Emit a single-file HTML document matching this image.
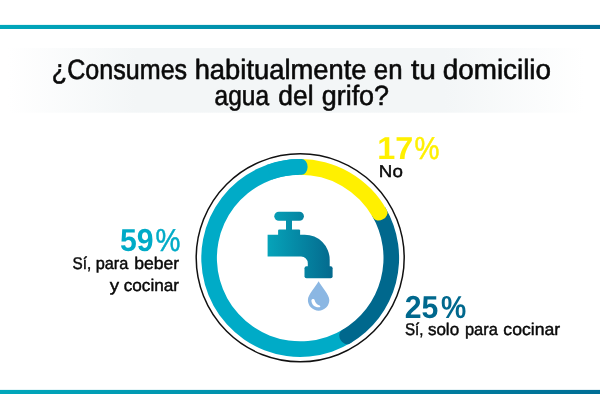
<!DOCTYPE html>
<html lang="es"><head><meta charset="utf-8"><title>¿Consumes habitualmente en tu domicilio agua del grifo?</title>
<style>
html,body{margin:0;padding:0;background:#fff;}
body{width:600px;height:419px;overflow:hidden;font-family:"Liberation Sans",sans-serif;}
svg{display:block;will-change:transform;}
text{font-family:"Liberation Sans",sans-serif;text-rendering:geometricPrecision;}
</style></head><body>
<svg width="600" height="419" viewBox="0 0 600 419">
<defs>
<linearGradient id="bar" x1="0" x2="1" y1="0" y2="0"><stop offset="0" stop-color="#00a7bb"/><stop offset="1" stop-color="#006e95"/></linearGradient>
<linearGradient id="band" x1="0" x2="1" y1="0" y2="0"><stop offset="0" stop-color="#ffffff"/><stop offset="0.22" stop-color="#f3f6f7"/><stop offset="0.75" stop-color="#f3f6f7"/><stop offset="0.99" stop-color="#ffffff"/></linearGradient>
<linearGradient id="tap" gradientUnits="userSpaceOnUse" x1="267" x2="333" y1="0" y2="0"><stop offset="0" stop-color="#06a4ba"/><stop offset="1" stop-color="#04698d"/></linearGradient>
</defs>
<rect width="600" height="419" fill="#fff"/>
<rect x="0" y="24.9" width="600" height="4.1" fill="url(#bar)"/>
<rect x="0" y="389.9" width="600" height="4.1" fill="url(#bar)"/>
<rect x="8" y="48" width="582" height="64.7" fill="url(#band)"/>
<g class="txt"><text y="79" font-size="28" fill="#0a0a0a" stroke="#0a0a0a" stroke-width="0.6" stroke-linejoin="round"><tspan x="51.86" textLength="135.27" lengthAdjust="spacingAndGlyphs">¿Consumes</tspan> <tspan x="194.66" textLength="171.91" lengthAdjust="spacingAndGlyphs">habitualmente</tspan> <tspan x="373.87" textLength="28.71" lengthAdjust="spacingAndGlyphs">en</tspan> <tspan x="410.91" textLength="25.01" lengthAdjust="spacingAndGlyphs">tu</tspan> <tspan x="442.73" textLength="108.32" lengthAdjust="spacingAndGlyphs">domicilio</tspan></text>
<text y="105" font-size="28" fill="#0a0a0a" stroke="#0a0a0a" stroke-width="0.6" stroke-linejoin="round"><tspan x="214.60" textLength="54.47" lengthAdjust="spacingAndGlyphs">agua</tspan> <tspan x="278.35" textLength="35.18" lengthAdjust="spacingAndGlyphs">del</tspan> <tspan x="321.72" textLength="67.34" lengthAdjust="spacingAndGlyphs">grifo?</tspan></text></g>

<circle cx="300.2" cy="257.8" r="104.0" fill="#fff" stroke="#111" stroke-width="1.5"/>
<path d="M352.61,341.87 A98.9,98.9 0 1 1 301.93,159.12 A7.80,6.00 271.00 0 1 301.65,174.71 A83.3,83.3 0 1 0 344.34,328.64 Z" fill="#00abc7"/>
<path d="M385.15,207.36 A98.9,98.9 0 0 1 349.65,343.65 A7.80,6.00 60.00 0 1 341.85,330.14 A83.3,83.3 0 0 0 371.75,215.35 Z" fill="#00688d"/>
<path d="M298.47,159.12 A98.9,98.9 0 0 1 386.87,210.35 A7.80,6.00 -28.80 0 1 373.20,217.87 A83.3,83.3 0 0 0 298.75,174.71 Z" fill="#fff000"/>
<path d="M266.37,165.06 A98.9,98.9 0 0 1 301.93,159.12 A7.80,6.00 271.00 0 1 301.65,174.71 A83.3,83.3 0 0 0 271.71,179.72 Z" fill="#00abc7"/>

<!-- faucet -->
<g fill="url(#tap)">
<rect x="274.3" y="211.7" width="29.6" height="9" rx="4.5"/>
<rect x="286.0" y="219" width="6.0" height="12"/>
<rect x="278.1" y="229.4" width="22" height="7" rx="1.2"/>
<path d="M267.6,234.7 H304.7 A25,25 0 0 1 329.7,259.7 V267 H307.8 V263.2 A6.7,6.7 0 0 0 301.1,256.5 H267.6 Z"/>
<rect x="304.5" y="266.2" width="28.1" height="12" rx="2"/>
</g>
<path d="M318.6,281.2 C316,286.5 307.9,294.2 307.9,300 A10.7,10.7 0 0 0 329.3,300 C329.3,294.2 321.2,286.5 318.6,281.2 Z" fill="#8bb7e3"/>
<path d="M311.4,300.8 C311.2,298.6 314.3,298.2 314.7,300.2 C315.2,302.6 317,304.6 319.6,305.4 C320.6,305.8 320.6,307.2 319.5,307.3 C315,307.8 311.6,304.8 311.4,300.8 Z" fill="#fff"/>

<!-- labels -->
<g class="txt">
<text y="159" font-size="31.8" fill="#fff000"><tspan x="377.35" textLength="35.98" lengthAdjust="spacingAndGlyphs" font-weight="bold">17</tspan><tspan x="414.40" textLength="24.96" lengthAdjust="spacingAndGlyphs" stroke="#fff000" stroke-width="0.5">%</tspan></text>
<text y="177" font-size="17" fill="#0a0a0a" stroke="#0a0a0a" stroke-width="0.45" stroke-linejoin="round"><tspan x="378.86" textLength="23.95" lengthAdjust="spacingAndGlyphs">No</tspan></text>
<text y="251" font-size="31.8" fill="#00abc7"><tspan x="120.05" textLength="33.62" lengthAdjust="spacingAndGlyphs" font-weight="bold">59</tspan><tspan x="155.49" textLength="24.92" lengthAdjust="spacingAndGlyphs" stroke="#00abc7" stroke-width="0.5">%</tspan></text>
<text y="269" font-size="17" fill="#0a0a0a" stroke="#0a0a0a" stroke-width="0.45" stroke-linejoin="round"><tspan x="72.55" textLength="18.69" lengthAdjust="spacingAndGlyphs">Sí,</tspan> <tspan x="95.69" textLength="32.69" lengthAdjust="spacingAndGlyphs">para</tspan> <tspan x="134.17" textLength="44.87" lengthAdjust="spacingAndGlyphs">beber</tspan></text>
<text y="291" font-size="17" fill="#0a0a0a" stroke="#0a0a0a" stroke-width="0.45" stroke-linejoin="round"><tspan x="109.87" textLength="9.37" lengthAdjust="spacingAndGlyphs">y</tspan> <tspan x="123.68" textLength="55.44" lengthAdjust="spacingAndGlyphs">cocinar</tspan></text>
<text y="318" font-size="31.8" fill="#00688d"><tspan x="404.81" textLength="33.58" lengthAdjust="spacingAndGlyphs" font-weight="bold">25</tspan><tspan x="441.06" textLength="25.24" lengthAdjust="spacingAndGlyphs" font-weight="bold">%</tspan></text>
<text y="335" font-size="17" fill="#0a0a0a" stroke="#0a0a0a" stroke-width="0.45" stroke-linejoin="round"><tspan x="404.98" textLength="18.56" lengthAdjust="spacingAndGlyphs">Sí,</tspan> <tspan x="427.90" textLength="31.21" lengthAdjust="spacingAndGlyphs">solo</tspan> <tspan x="464.94" textLength="32.95" lengthAdjust="spacingAndGlyphs">para</tspan> <tspan x="503.36" textLength="56.83" lengthAdjust="spacingAndGlyphs">cocinar</tspan></text>
</g>
</svg>
</body></html>
